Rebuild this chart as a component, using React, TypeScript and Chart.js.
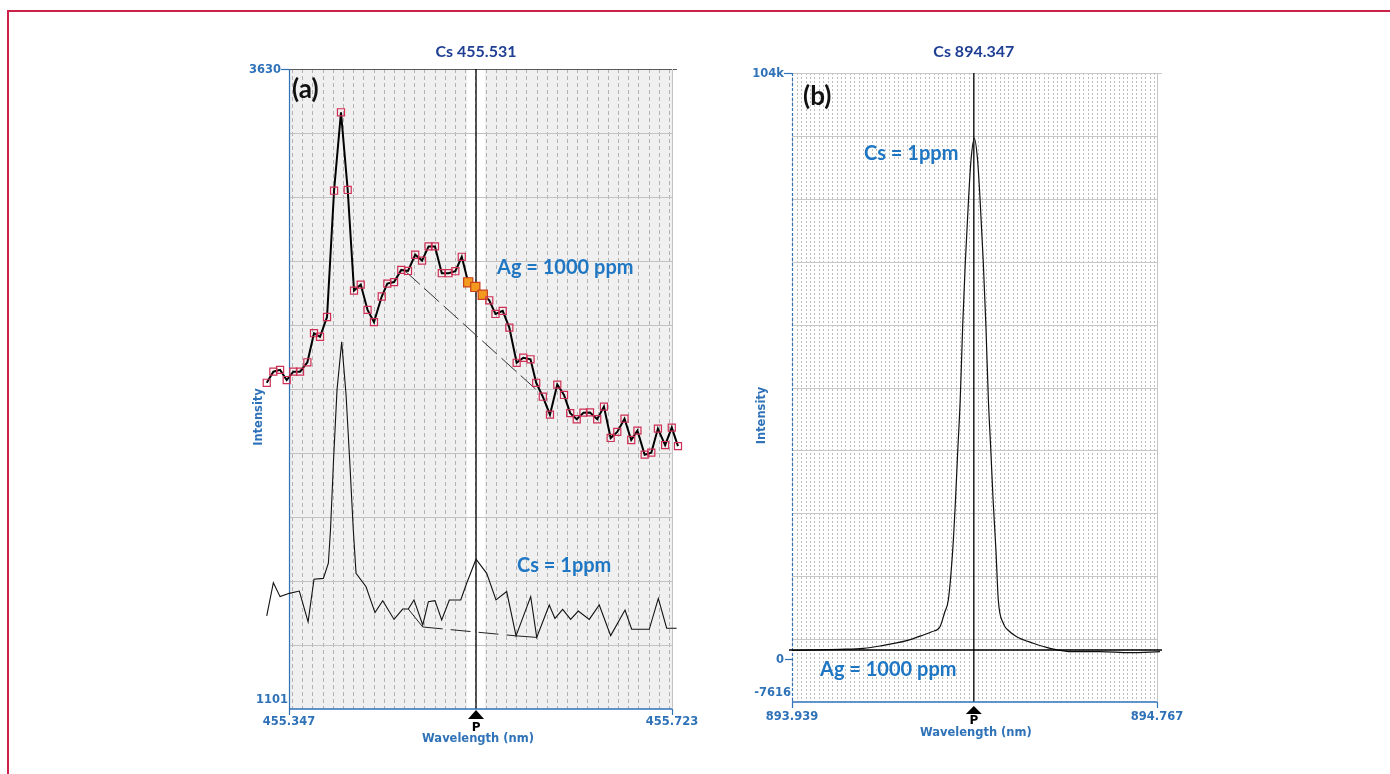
import React, { useEffect, useRef } from "react";
import { Chart, registerables } from "chart.js";

Chart.register(...registerables);

// ---------------- Panel (a): Cs 455.531 ----------------
const A_TITLE = "Cs 455.531";
const A_X_RANGE = [455.347, 455.723];
const A_Y_RANGE = [1101, 3630];
const A_X_TICK_LABELS = ["455.347", "455.723"];
const A_Y_TICK_LABELS = ["1101", "3630"];
const A_PEAK_WL = 455.5306;
const A_WINDOW = [455.5217, 455.5394];

const A_AG_WL = [
  455.3251, 455.3316, 455.3382, 455.3447, 455.3512, 455.3578, 455.365, 455.3715, 455.3774, 455.3843,
  455.3912, 455.398, 455.4046, 455.4108, 455.4174, 455.4241, 455.4304, 455.438, 455.4435, 455.4501,
  455.4572, 455.4638, 455.4709, 455.4776, 455.484, 455.4903, 455.497, 455.5036, 455.5103, 455.5166,
  455.5229, 455.5299, 455.5372, 455.5436, 455.5497, 455.5568, 455.5633, 455.5705, 455.577, 455.5841,
  455.5897, 455.5962, 455.6032, 455.6104, 455.617, 455.6231, 455.6295, 455.6361, 455.6425, 455.6496,
  455.6562, 455.6628, 455.6693, 455.6764, 455.683, 455.6891, 455.6962, 455.7027, 455.7092, 455.7163,
  455.7228, 455.7289,
];
const A_AG_INT = [
  2390, 2434, 2441, 2401, 2434, 2434, 2471, 2586, 2572, 2650,
  3149, 3459, 3152, 2754, 2778, 2678, 2630, 2731, 2782, 2788,
  2836, 2832, 2896, 2873, 2929, 2929, 2823, 2823, 2831, 2888,
  2787, 2769, 2738, 2716, 2662, 2674, 2608, 2469, 2489, 2483,
  2390, 2335, 2264, 2383, 2342, 2270, 2246, 2272, 2273, 2246,
  2296, 2172, 2196, 2248, 2164, 2201, 2106, 2114, 2209, 2144,
  2213, 2140,
];
const A_AG_HIGHLIGHT = [30, 31, 32];

const A_AG_BASE_WL = [455.4609, 455.5944];
const A_AG_BASE_INT = [2832, 2346];

const A_CS_WL = [
  455.3251, 455.3316, 455.3382, 455.3473, 455.3571, 455.3657, 455.3715, 455.3807, 455.3856, 455.3877,
  455.3907, 455.3941, 455.3987, 455.403, 455.4069, 455.4101, 455.4128, 455.4226, 455.4314, 455.439,
  455.4501, 455.4586, 455.4641, 455.4697, 455.4783, 455.4838, 455.4903, 455.4969, 455.5044, 455.5156,
  455.5214, 455.5306, 455.5411, 455.5502, 455.5607, 455.5699, 455.5843, 455.5902, 455.6025, 455.6081,
  455.6157, 455.6235, 455.631, 455.6418, 455.6516, 455.6628, 455.6769, 455.6834, 455.7007, 455.7096,
  455.7178, 455.7276,
];
const A_CS_INT = [
  1469, 1600, 1545, 1558, 1567, 1445, 1614, 1617, 1677, 1808,
  2085, 2362, 2552, 2342, 2057, 1808, 1637, 1584, 1482, 1529,
  1455, 1496, 1496, 1532, 1433, 1525, 1529, 1453, 1532, 1532,
  1598, 1693, 1637, 1532, 1565, 1390, 1545, 1384, 1512, 1459,
  1495, 1455, 1488, 1455, 1512, 1391, 1492, 1416, 1416, 1538,
  1420, 1420,
];
const A_CS_BASE_WL = [455.4641, 455.4783, 455.5699, 455.5902];
const A_CS_BASE_INT = [1496, 1425, 1390, 1384];

// ---------------- Panel (b): Cs 894.347 ----------------
const B_TITLE = "Cs 894.347";
const B_X_RANGE = [893.939, 894.767];
const B_Y_RANGE = [-7616, 104000];
const B_X_TICK_LABELS = ["893.939", "894.767"];
const B_Y_TICK_LABELS = ["-7616", "104k"];
const B_Y_EXTRA_TICKS = [0];
const B_Y_EXTRA_LABELS = ["0"];
const B_PEAK_WL = 894.3515;

const B_CS_WL = [
  893.939, 894.0479, 894.1007, 894.1386, 894.1992, 894.2369, 894.2559, 894.2747, 894.2856, 894.2936,
  894.3036, 894.3099, 894.3151, 894.3206, 894.3262, 894.3321, 894.3394, 894.3451, 894.3526, 894.36,
  894.3657, 894.373, 894.3789, 894.3845, 894.39, 894.3952, 894.4016, 894.407, 894.4183, 894.4313,
  894.4487, 894.4864, 894.5243, 894.5764, 894.6377, 894.7058, 894.7738,
];
const B_CS_INT = [
  1523, 1736, 1913, 2321, 3262, 4273, 4859, 5746, 8354, 10484,
  19356, 28229, 37100, 45974, 59105, 70285, 81464, 88560, 92413, 88560,
  81464, 70285, 59105, 45974, 37100, 28229, 19356, 10484, 6349, 4983,
  3972, 2800, 1913, 1310, 1310, 1132, 1310,
];
const B_AG_WL = [893.9322, 894.05, 894.15, 894.25, 894.35, 894.45, 894.55, 894.65, 894.7783];
const B_AG_INT = [1611, 1605, 1615, 1610, 1611, 1608, 1612, 1606, 1611];

// ---------------- styling ----------------
const BLUE_AXIS = "#2f72b8";
const BLUE_TITLE = "#1f3f94";
const BLUE_NOTE = "#1f77c4";
const MARKER_RED = "#cf2f55";
const ORANGE = "#f39a1e";
const AXIS_FONT = 'bold 11.5px "DejaVu Sans"';
const TITLE_FONT = "bold 16px Lato";
const NOTE_FONT = "bold 20px Lato";
const PANEL_FONT = "bold 26px Lato";

const pts = (xs: number[], ys: number[]) => xs.map((x, i) => ({ x, y: ys[i] }));

type Note = { text: string; x: number; y: number };
type Spec = {
  id: string;
  canvas: { left: number; top: number; width: number; height: number };
  padding: { left: number; right: number; top: number; bottom: number };
  scaleX: number[];
  xRange: number[];
  yRange: number[];
  xTickLabels: string[];
  yTickLabels: string[];
  yExtraTicks: number[];
  yExtraLabels: string[];
  peak: number;
  title: string;
  window?: number[];
  gridStart: number;
  gridStep: number;
  plotBg: string;
  vGridColor: string;
  vGridDash: number[];
  hGridColor: string;
  leftDash: number[];
  topColor: string;
  panelLabel: string;
  panelPos: number[];
  notes: Note[];
  off: { title: number; xlab: number; tri: number; triH: number; p: number; wl: number };
};

function decor(p: Spec) {
  return {
    id: "decor-" + p.id,
    beforeDatasetsDraw(chart: any) {
      const ctx = chart.ctx as CanvasRenderingContext2D;
      const xs = chart.scales.x;
      const ys = chart.scales.y;
      const L = xs.getPixelForValue(p.xRange[0]);
      const R = xs.getPixelForValue(p.xRange[1]);
      const T = ys.getPixelForValue(p.yRange[1]);
      const B = ys.getPixelForValue(p.yRange[0]);
      const h = (v: number) => Math.round(v) + 0.5;
      const line = (x1: number, y1: number, x2: number, y2: number) => {
        ctx.beginPath();
        ctx.moveTo(x1, y1);
        ctx.lineTo(x2, y2);
        ctx.stroke();
      };
      ctx.save();
      ctx.fillStyle = p.plotBg;
      ctx.fillRect(L, T, R - L, B - T);
      if (p.window) {
        const a = xs.getPixelForValue(p.window[0]);
        const b = xs.getPixelForValue(p.window[1]);
        ctx.fillStyle = "#ffffff";
        ctx.fillRect(a, T, b - a, B - T);
      }
      // vertical dashed grid
      ctx.lineWidth = 1;
      ctx.strokeStyle = p.vGridColor;
      ctx.setLineDash(p.vGridDash);
      for (let k = 0; ; k++) {
        const v = p.gridStart + k * p.gridStep;
        if (v >= p.xRange[1] - 1e-9) break;
        const x = h(xs.getPixelForValue(v));
        line(x, T, x, B);
      }
      ctx.setLineDash([]);
      // horizontal grid
      ctx.strokeStyle = p.hGridColor;
      for (let k = 1; k < 10; k++) {
        const y = h(T + (k * (B - T)) / 10);
        line(L, y, R, y);
      }
      // frame top/right
      ctx.strokeStyle = p.topColor;
      line(L, h(T), R + 5, h(T));
      ctx.strokeStyle = "#c4c4c4";
      line(h(R), T, h(R), B);
      // peak line
      const px = xs.getPixelForValue(p.peak);
      ctx.strokeStyle = "#000";
      ctx.lineWidth = 1.3;
      line(px, T, px, B);
      // axes
      ctx.strokeStyle = BLUE_AXIS;
      ctx.lineWidth = 1.2;
      ctx.setLineDash(p.leftDash);
      line(h(L), T, h(L), B);
      ctx.setLineDash([]);
      ctx.lineWidth = 1.5;
      line(L, B, R, B);
      ctx.lineWidth = 1.2;
      line(h(L), B, h(L), B + 6);
      line(h(R), B, h(R), B + 6);
      line(L - 8, h(T), L, h(T));
      for (const v of p.yExtraTicks) {
        const y = h(ys.getPixelForValue(v));
        line(L - 7, y, L, y);
      }
      ctx.restore();
    },
    afterDatasetsDraw(chart: any) {
      const ctx = chart.ctx as CanvasRenderingContext2D;
      const xs = chart.scales.x;
      const ys = chart.scales.y;
      const L = xs.getPixelForValue(p.xRange[0]);
      const R = xs.getPixelForValue(p.xRange[1]);
      const T = ys.getPixelForValue(p.yRange[1]);
      const B = ys.getPixelForValue(p.yRange[0]);
      const px = xs.getPixelForValue(p.peak);
      ctx.save();
      ctx.textBaseline = "middle";
      // title
      ctx.font = TITLE_FONT;
      ctx.fillStyle = BLUE_TITLE;
      ctx.textAlign = "center";
      ctx.fillText(p.title, px, T + p.off.title);
      // x tick labels
      ctx.font = AXIS_FONT;
      ctx.fillStyle = BLUE_AXIS;
      ctx.fillText(p.xTickLabels[0], L, B + p.off.xlab);
      ctx.fillText(p.xTickLabels[1], R, B + p.off.xlab);
      // y tick labels
      ctx.textAlign = "right";
      ctx.fillText(p.yTickLabels[1], L - 8, T + 1);
      ctx.fillText(p.yTickLabels[0], L - 1, B - 9);
      p.yExtraTicks.forEach((v, i) => {
        ctx.fillText(p.yExtraLabels[i], L - 8, ys.getPixelForValue(v) + 1);
      });
      // axis titles
      ctx.textAlign = "center";
      ctx.fillText("Wavelength (nm)", px + 2, B + p.off.wl);
      ctx.save();
      ctx.translate(L - 30, (T + B) / 2 + 28);
      ctx.rotate(-Math.PI / 2);
      ctx.fillText("Intensity", 0, 0);
      ctx.restore();
      // P marker
      ctx.fillStyle = "#000";
      ctx.beginPath();
      ctx.moveTo(px, B + p.off.tri);
      ctx.lineTo(px + 8, B + p.off.tri + p.off.triH);
      ctx.lineTo(px - 8, B + p.off.tri + p.off.triH);
      ctx.closePath();
      ctx.fill();
      ctx.font = 'bold 12px "DejaVu Sans"';
      ctx.fillText("P", px, B + p.off.p);
      // panel label
      ctx.font = PANEL_FONT;
      ctx.textAlign = "left";
      ctx.fillStyle = "#111";
      ctx.fillText(p.panelLabel, L + p.panelPos[0], T + p.panelPos[1]);
      // notes
      ctx.font = NOTE_FONT;
      ctx.fillStyle = BLUE_NOTE;
      for (const n of p.notes) {
        ctx.fillText(n.text, xs.getPixelForValue(n.x), ys.getPixelForValue(n.y));
      }
      ctx.restore();
    },
  };
}

function Panel({ spec, datasets }: { spec: Spec; datasets: any[] }) {
  const ref = useRef<HTMLCanvasElement | null>(null);
  useEffect(() => {
    if (!ref.current) return;
    const chart = new Chart(ref.current, {
      type: "line",
      data: { datasets },
      options: {
        responsive: false,
        animation: false,
        devicePixelRatio: 1,
        events: [],
        layout: { padding: spec.padding },
        plugins: { legend: { display: false }, tooltip: { enabled: false } },
        scales: {
          x: { type: "linear", display: false, bounds: "data", min: spec.scaleX[0], max: spec.scaleX[1] },
          y: { type: "linear", display: false, bounds: "data", min: spec.yRange[0], max: spec.yRange[1] },
        },
      },
      plugins: [decor(spec)],
    } as any);
    return () => chart.destroy();
  }, []);
  const c = spec.canvas;
  return (
    <canvas
      ref={ref}
      width={c.width}
      height={c.height}
      style={{ position: "absolute", left: c.left, top: c.top, width: c.width, height: c.height }}
    />
  );
}

const specA: Spec = {
  id: "a",
  canvas: { left: 230, top: 20, width: 480, height: 740 },
  padding: { left: 29, right: 25, top: 49, bottom: 51 },
  scaleX: [455.3175, 455.7358],
  xRange: A_X_RANGE,
  yRange: A_Y_RANGE,
  xTickLabels: A_X_TICK_LABELS,
  yTickLabels: A_Y_TICK_LABELS,
  yExtraTicks: [],
  yExtraLabels: [],
  peak: A_PEAK_WL,
  title: A_TITLE,
  window: A_WINDOW,
  gridStart: 455.35,
  gridStep: 0.01,
  plotBg: "#f0f0f0",
  vGridColor: "#b2b2b2",
  vGridDash: [4, 3],
  hGridColor: "#c2c2c2",
  leftDash: [],
  topColor: "#5a5a5a",
  panelLabel: "(a)",
  panelPos: [3, 21],
  notes: [
    { text: "Ag = 1000 ppm", x: 455.5512, y: 2844 },
    { text: "Cs = 1ppm", x: 455.5708, y: 1666 },
  ],
  off: { title: -17, xlab: 13, tri: 1, triH: 9, p: 19, wl: 30 },
};

const specB: Spec = {
  id: "b",
  canvas: { left: 730, top: 20, width: 460, height: 740 },
  padding: { left: 62, right: 33, top: 53, bottom: 58 },
  scaleX: B_X_RANGE,
  xRange: B_X_RANGE,
  yRange: B_Y_RANGE,
  xTickLabels: B_X_TICK_LABELS,
  yTickLabels: B_Y_TICK_LABELS,
  yExtraTicks: B_Y_EXTRA_TICKS,
  yExtraLabels: B_Y_EXTRA_LABELS,
  peak: B_PEAK_WL,
  title: B_TITLE,
  gridStart: 893.94,
  gridStep: 0.01,
  plotBg: "#ffffff",
  vGridColor: "#bcbcbc",
  vGridDash: [2, 2],
  hGridColor: "#c8c8c8",
  leftDash: [3, 2],
  topColor: "#c8c8c8",
  panelLabel: "(b)",
  panelPos: [11, 24],
  notes: [
    { text: "Cs = 1ppm", x: 894.1023, y: 89627 },
    { text: "Ag = 1000 ppm", x: 894.0025, y: -1938 },
  ],
  off: { title: -21, xlab: 15, tri: 4, triH: 8, p: 18.5, wl: 31 },
};

const datasetsA = [
  {
    label: "Ag 1000 ppm",
    data: pts(A_AG_WL, A_AG_INT),
    borderColor: "#000",
    borderWidth: 2,
    pointStyle: "rect",
    pointRadius: A_AG_WL.map((_, i) => (A_AG_HIGHLIGHT.includes(i) ? 6.5 : 5)),
    pointBackgroundColor: A_AG_WL.map((_, i) => (A_AG_HIGHLIGHT.includes(i) ? ORANGE : "rgba(0,0,0,0)")),
    pointBorderColor: A_AG_WL.map((_, i) => (A_AG_HIGHLIGHT.includes(i) ? "#c8401c" : MARKER_RED)),
    pointBorderWidth: 1.2,
    clip: false,
    order: 0,
  },
  {
    label: "Ag baseline",
    data: pts(A_AG_BASE_WL, A_AG_BASE_INT),
    borderColor: "#333",
    borderWidth: 1,
    borderDash: [20, 6],
    pointRadius: 0,
    clip: false,
    order: 2,
  },
  {
    label: "Cs 1 ppm",
    data: pts(A_CS_WL, A_CS_INT),
    borderColor: "#111",
    borderWidth: 1.1,
    pointRadius: 0,
    clip: false,
    order: 1,
  },
  {
    label: "Cs baseline",
    data: pts(A_CS_BASE_WL, A_CS_BASE_INT),
    borderColor: "#222",
    borderWidth: 1,
    pointRadius: 0,
    clip: false,
    order: 3,
    segment: { borderDash: (c: any) => (c.p0DataIndex === 1 ? [20, 8] : []) },
  },
];

const datasetsB = [
  {
    label: "Cs 1 ppm",
    data: pts(B_CS_WL, B_CS_INT),
    borderColor: "#111",
    borderWidth: 1.2,
    pointRadius: 0,
    cubicInterpolationMode: "monotone",
    clip: false,
    order: 1,
  },
  {
    label: "Ag 1000 ppm",
    data: pts(B_AG_WL, B_AG_INT),
    borderColor: "#000",
    borderWidth: 1.4,
    pointRadius: 0,
    clip: false,
    order: 0,
  },
];

export default function App() {
  return (
    <div
      style={{
        position: "fixed",
        left: 0,
        top: 0,
        width: 1390,
        height: 774,
        background: "#fff",
        overflow: "hidden",
      }}
    >
      <div
        style={{
          position: "absolute",
          left: 7,
          top: 10,
          width: 1400,
          height: 800,
          borderTop: "2px solid #cc2247",
          borderLeft: "2px solid #cc2247",
        }}
      />
      <Panel spec={specA} datasets={datasetsA} />
      <Panel spec={specB} datasets={datasetsB} />
    </div>
  );
}
